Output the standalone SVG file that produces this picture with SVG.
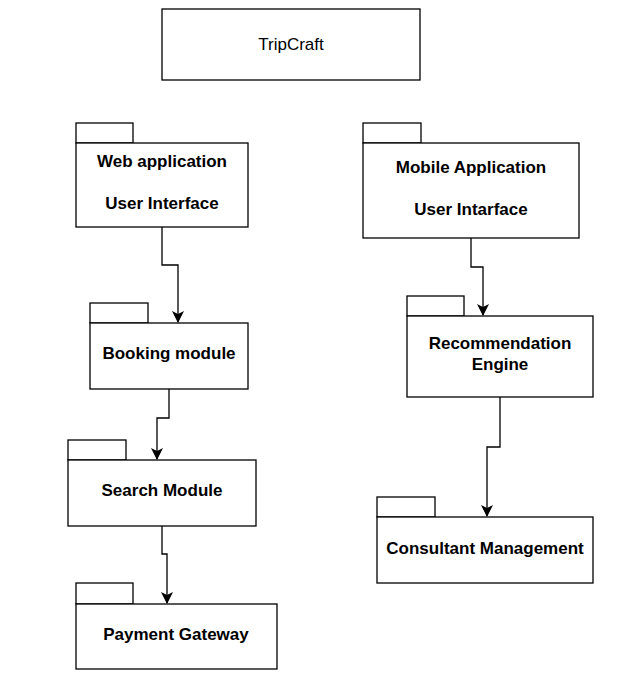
<svg xmlns="http://www.w3.org/2000/svg" width="636" height="699" viewBox="0 0 636 699">
<style>
.box{fill:#fff;stroke:#000;stroke-width:1.3}
.t{font-family:"Liberation Sans",Arial,sans-serif;font-size:17px;font-weight:bold;fill:#000;text-anchor:middle;dominant-baseline:central}
.r{font-family:"Liberation Sans",Arial,sans-serif;font-size:17px;fill:#000;text-anchor:middle;dominant-baseline:central}
.c{fill:none;stroke:#000;stroke-width:1.3}
</style>
<defs>
<marker id="a" viewBox="0 0 12 12" refX="11" refY="6" markerWidth="12" markerHeight="12" markerUnits="userSpaceOnUse" orient="auto">
<path d="M0,0 L12,6 L0,12 L3,6 Z" fill="#000"/>
</marker>
</defs>
<rect width="636" height="699" fill="#fff"/>
<g id="tripcraft">
<rect class="box" x="162" y="9" width="258" height="71"/>
<text class="r" x="291" y="44">TripCraft</text>
</g>
<g id="web-app">
<rect class="box" x="76" y="123" width="57" height="20"/>
<rect class="box" x="76" y="143" width="172" height="84"/>
<text class="t" x="162" y="161">Web application</text>
<text class="t" x="162" y="203">User Interface</text>
</g>
<g id="booking">
<rect class="box" x="90" y="303" width="58" height="20"/>
<rect class="box" x="90" y="323" width="158" height="66"/>
<text class="t" x="169" y="353">Booking module</text>
</g>
<g id="search">
<rect class="box" x="68" y="440" width="58" height="20"/>
<rect class="box" x="68" y="460" width="188" height="66"/>
<text class="t" x="162" y="490">Search Module</text>
</g>
<g id="payment">
<rect class="box" x="76" y="583" width="57" height="21"/>
<rect class="box" x="76" y="604" width="201" height="65"/>
<text class="t" x="176" y="634">Payment Gateway</text>
</g>
<g id="mobile-app">
<rect class="box" x="363" y="123" width="58" height="20"/>
<rect class="box" x="363" y="143" width="216" height="95"/>
<text class="t" x="471" y="167">Mobile Application</text>
<text class="t" x="471" y="209">User Intarface</text>
</g>
<g id="recommendation">
<rect class="box" x="407" y="296" width="57" height="20"/>
<rect class="box" x="407" y="316" width="186" height="81"/>
<text class="t" x="500" y="343">Recommendation</text>
<text class="t" x="500" y="364">Engine</text>
</g>
<g id="consultant">
<rect class="box" x="377" y="497" width="58" height="20"/>
<rect class="box" x="377" y="517" width="216" height="66"/>
<text class="t" x="485" y="548">Consultant Management</text>
</g>
<g id="connectors">
<path class="c" d="M162,227 V265 H178 V322" marker-end="url(#a)"/>
<path class="c" d="M169,389 V418 H157 V459" marker-end="url(#a)"/>
<path class="c" d="M162,526 V554 H167 V603" marker-end="url(#a)"/>
<path class="c" d="M471,238 V267 H483 V315" marker-end="url(#a)"/>
<path class="c" d="M500,397 V447 H487 V516" marker-end="url(#a)"/>
</g>
</svg>
